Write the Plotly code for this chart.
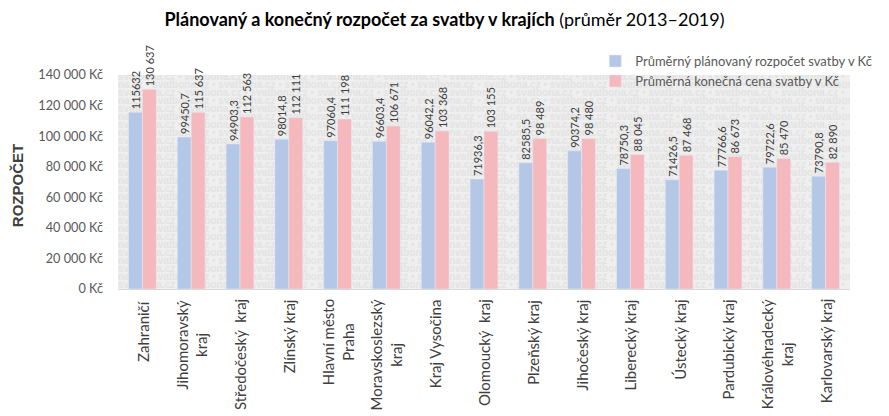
import plotly.graph_objects as go

categories = ["Zahraničí", "Jihomoravský<br>kraj", "Středočeský  kraj", "Zlínský kraj",
              "Hlavní město<br>Praha", "Moravskoslezský<br>kraj", "Kraj Vysočina",
              "Olomoucký  kraj", "Plzeňský kraj", "Jihočeský kraj", "Liberecký kraj",
              "Ústecký kraj", "Pardubický kraj", "Královéhradecký<br>kraj", "Karlovarský kraj"]
planned = [115632, 99450.7, 94903.3, 98014.8, 97060.4, 96603.4, 96042.2, 71936.3,
           82585.5, 90374.2, 78750.3, 71426.5, 77766.6, 79722.6, 73790.8]
final = [130637, 115637, 112563, 112111, 111198, 106671, 103368, 103155,
         98489, 98480, 88045, 87468, 86673, 85470, 82890]
ytick_vals = [0, 20000, 40000, 60000, 80000, 100000, 120000, 140000]
ytick_text = ["0 Kč", "20 000 Kč", "40 000 Kč", "60 000 Kč", "80 000 Kč",
              "100 000 Kč", "120 000 Kč", "140 000 Kč"]
series_names = ["Průměrný plánovaný rozpočet svatby v Kč", "Průměrná konečná cena svatby v Kč"]

FONT = "Lato"
TXT = "#404040"


def fmt_planned(v):
    if float(v).is_integer():
        return str(int(v))
    return f"{v:.1f}".replace(".", ",")


def fmt_final(v):
    return f"{int(v):,}".replace(",", " ")


keys = [f"c{i}" for i in range(len(categories))]

fig = go.Figure()

# watermark (decorative background text), on a hidden numeric x axis below the bars
wm_x, wm_y, wm_t = [], [], []
unit = "svatbona.cz • "
n_rows = 27
for r in range(n_rows):
    wm_y.append(2600 + r * 5234)
    wm_x.append(0.0)
    s = unit * 11 if r % 2 == 0 else "na.cz • " + unit * 11
    wm_t.append("<b>" + s + "</b>")
fig.add_trace(go.Scatter(x=wm_x, y=wm_y, text=wm_t, mode="text", textposition="middle right",
                         textfont=dict(family="Liberation Sans", size=10, color="#e3e3e3"),
                         hoverinfo="skip", showlegend=False, xaxis="x", yaxis="y",
                         cliponaxis=True))

fig.add_trace(go.Bar(x=keys, y=planned, name=series_names[0], marker_color="#b4c7e7",
                     text=[fmt_planned(v) for v in planned], textposition="outside",
                     textangle=-90, constraintext="none", cliponaxis=False,
                     textfont=dict(family=FONT, size=11, color=TXT), xaxis="x2", yaxis="y"))
fig.add_trace(go.Bar(x=keys, y=final, name=series_names[1], marker_color="#f5b8bc",
                     text=[fmt_final(v) for v in final], textposition="outside",
                     textangle=-90, constraintext="none", cliponaxis=False,
                     textfont=dict(family=FONT, size=11, color=TXT), xaxis="x2", yaxis="y"))

annotations = []
for k, c in zip(keys, categories):
    annotations.append(dict(x=k, xref="x2", y=-0.04, yref="paper", text=c, showarrow=False,
                            textangle=-90, xanchor="center", yanchor="top", align="center",
                            font=dict(family=FONT, size=15, color=TXT)))
annotations.append(dict(x=-0.138, xref="paper", y=0.485, yref="paper", text="<b>ROZPOČET</b>",
                        showarrow=False, textangle=-90, xanchor="center", yanchor="middle",
                        font=dict(family="Liberation Sans", size=15, color=TXT)))

fig.update_layout(
    width=889, height=416,
    margin=dict(l=118, r=26, t=75, b=127),
    paper_bgcolor="white", plot_bgcolor="#efefef",
    barmode="group", bargap=0.43, bargroupgap=0,
    title=dict(text="<b>Plánovaný a konečný rozpočet za svatby v krajích</b> (průměr 2013–2019)",
               x=0.5, xanchor="center", y=0.952, yanchor="middle",
               font=dict(family=FONT, size=18, color="black")),
    xaxis=dict(range=[0, 1], visible=False, fixedrange=True),
    xaxis2=dict(overlaying="x", type="category", showticklabels=False, ticks="",
                showline=True, linecolor="#d9d9d9", linewidth=1, showgrid=False),
    yaxis=dict(range=[0, 140000], tickvals=ytick_vals, ticktext=ytick_text, showgrid=False,
               zeroline=False, showline=False, ticks="", ticklabelstandoff=14,
               tickfont=dict(family=FONT, size=12.7, color="#595959")),
    legend=dict(x=0.652, xanchor="left", y=1.135, yanchor="top", bgcolor="rgba(0,0,0,0)",
                font=dict(family=FONT, size=13, color="#595959"), tracegroupgap=0,
                itemwidth=30),
    annotations=annotations,
    showlegend=True,
)

fig.write_html("out.html", config={"displayModeBar": False})

with open("out.html", encoding="utf-8") as f:
    html = f.read()
html = html.replace("<body>", '<body style="margin:0">', 1)
with open("out.html", "w", encoding="utf-8") as f:
    f.write(html)
